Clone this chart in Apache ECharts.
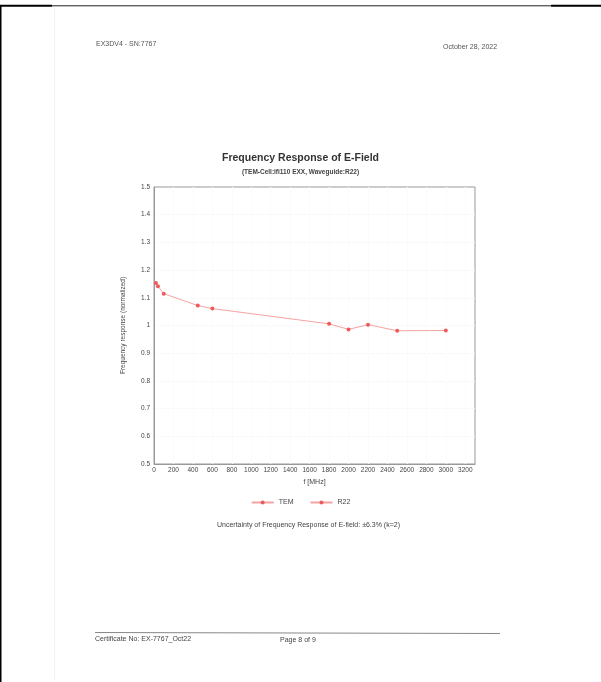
<!DOCTYPE html>
<html>
<head>
<meta charset="utf-8">
<style>
html,body{margin:0;padding:0;background:#fff;}
#c{width:601px;height:682px;}
</style>
<script src="https://cdn.jsdelivr.net/npm/echarts@6/dist/echarts.min.js"></script>
</head>
<body>
<div id="c"></div>
<script>
// Data
const temFreq = [20, 40, 100, 450, 600];
const temResp = [1.153, 1.142, 1.115, 1.072, 1.061];
const r22Freq = [1800, 2000, 2200, 2500, 3000];
const r22Resp = [1.006, 0.986, 1.003, 0.981, 0.982];
const seriesNames = ['TEM', 'R22'];

const FONT = '"Liberation Sans", Arial, sans-serif';
const RED = '#ef5a5a';
const LINE = '#f5a3a3';

const temData = temFreq.map((f, i) => [f, temResp[i]]);
const r22Data = r22Freq.map((f, i) => [f, r22Resp[i]]);
// R22 line joins on from the last TEM point (hidden symbol there)
const r22Line = [{ value: temData[temData.length - 1], symbolSize: 0 }].concat(r22Data);

const chart = echarts.init(document.getElementById('c'), null, { renderer: 'canvas' });
chart.setOption({
  backgroundColor: '#fff',
  animation: false,
  textStyle: { fontFamily: FONT },
  title: {
    text: 'Frequency Response of E-Field',
    subtext: '(TEM-Cell:ifi110 EXX, Waveguide:R22)',
    left: 'center',
    top: 148,
    itemGap: 5,
    textStyle: { fontFamily: FONT, fontSize: 10.5, fontWeight: 'bold', color: '#333' },
    subtextStyle: { fontFamily: FONT, fontSize: 6.5, fontWeight: 'bold', color: '#444' }
  },
  legend: {
    data: seriesNames,
    top: 494,
    left: 'center',
    itemGap: 16,
    itemWidth: 22,
    itemHeight: 5,
    textStyle: { fontFamily: FONT, fontSize: 7, color: '#444' }
  },
  grid: {
    left: 154, top: 187, right: 126, bottom: 218,
    show: true, borderColor: '#999', borderWidth: 1, backgroundColor: '#fff'
  },
  xAxis: {
    type: 'value', min: 0, max: 3300, interval: 200,
    name: 'f [MHz]', nameLocation: 'middle', nameGap: 15,
    nameTextStyle: { fontFamily: FONT, fontSize: 7, color: '#444' },
    axisLine: { show: true, lineStyle: { color: '#999' } },
    axisTick: { show: false },
    axisLabel: { fontFamily: FONT, fontSize: 6.5, color: '#444', margin: 3, showMaxLabel: false,
      formatter: v => String(v) },
    splitLine: { show: true, showMinLine: false, showMaxLine: false, lineStyle: { color: '#f7f7f7', type: 'dotted' } }
  },
  yAxis: {
    type: 'value', min: 0.5, max: 1.5, interval: 0.1,
    name: 'Frequency response (normalized)', nameLocation: 'middle', nameGap: 27,
    nameTextStyle: { fontFamily: FONT, fontSize: 6.5, color: '#444' },
    axisLine: { show: true, lineStyle: { color: '#999' } },
    axisTick: { show: false },
    axisLabel: { fontFamily: FONT, fontSize: 6.5, color: '#444', margin: 4,
      formatter: v => String(Math.round(v * 10) / 10) },
    splitLine: { show: true, showMinLine: false, showMaxLine: false, lineStyle: { color: '#f4f4f4', type: 'dotted' } }
  },
  series: [
    {
      name: seriesNames[0], type: 'line', data: temData,
      symbol: 'circle', symbolSize: 4,
      itemStyle: { color: RED },
      lineStyle: { color: LINE, width: 1 }
    },
    {
      name: seriesNames[1], type: 'line', data: r22Line,
      symbol: 'circle', symbolSize: 4,
      itemStyle: { color: RED },
      lineStyle: { color: LINE, width: 1 }
    }
  ],
  graphic: [
    // page frame / scan edges
    { type: 'rect', shape: { x: 0, y: 4.7, width: 52, height: 2 }, style: { fill: '#000' }, silent: true },
    { type: 'rect', shape: { x: 551, y: 4.7, width: 50, height: 2 }, style: { fill: '#000' }, silent: true },
    { type: 'line', shape: { x1: 52, y1: 5.8, x2: 551, y2: 5.8 }, style: { stroke: '#222', lineWidth: 1 }, silent: true },
    { type: 'rect', shape: { x: 0, y: 5, width: 1.5, height: 677 }, style: { fill: '#000' }, silent: true },
    { type: 'line', shape: { x1: 54.5, y1: 7, x2: 54.5, y2: 680 }, style: { stroke: '#f3f3f3', lineWidth: 1 }, silent: true },
    // header
    { type: 'text', left: 96, top: 41, style: { text: 'EX3DV4 - SN:7767', font: '7px ' + FONT, fill: '#555' } },
    { type: 'text', left: 443, top: 44, style: { text: 'October 28, 2022', font: '7px ' + FONT, fill: '#555' } },
    // uncertainty note
    { type: 'text', left: 217, top: 522, style: { text: 'Uncertainty of Frequency Response of E-field: \u00b16.3% (k=2)', font: '7px ' + FONT, fill: '#444' } },
    // footer
    { type: 'line', shape: { x1: 95, y1: 632.5, x2: 500, y2: 633.5 }, style: { stroke: '#888', lineWidth: 1 }, silent: true },
    { type: 'text', left: 95, top: 636, style: { text: 'Certificate No: EX-7767_Oct22', font: '7px ' + FONT, fill: '#444' } },
    { type: 'text', left: 280, top: 637, style: { text: 'Page 8 of 9', font: '7px ' + FONT, fill: '#444' } }
  ]
});
</script>
</body>
</html>
